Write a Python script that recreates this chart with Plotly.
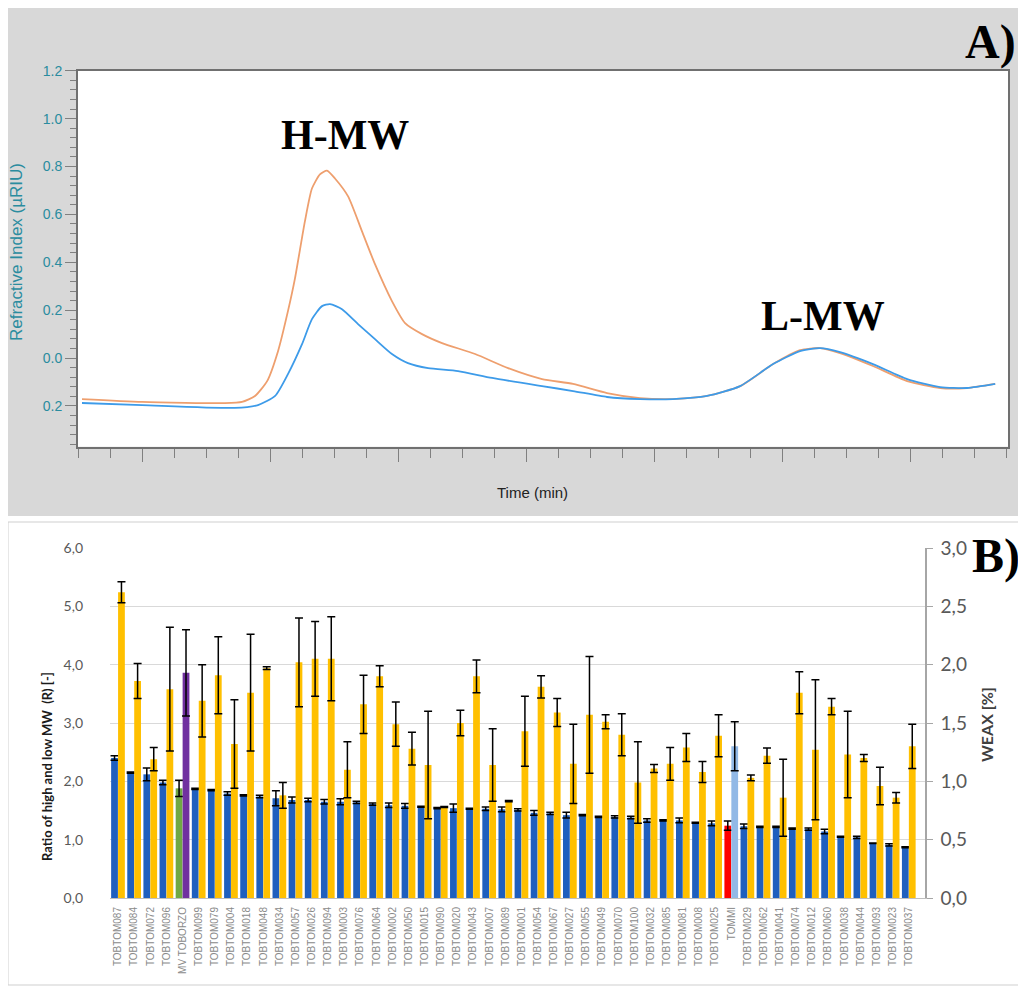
import plotly.graph_objects as go

FIG_W, FIG_H = 1026, 991
PAGE_OFFSET = 8  # the page body margin shifts the figure by this many pixels


def px(x):
    return (x - PAGE_OFFSET) / FIG_W


def py(y):
    return 1 - (y - PAGE_OFFSET) / FIG_H


# ---------------- Panel A: refractive index chromatograms ----------------
time_orange = [0.125, 2.0, 4.59, 5.125, 5.53, 5.91, 6.25, 6.56, 6.78, 7.09, 7.31, 7.56, 7.78,
               8.03, 8.44, 8.875, 9.28, 9.81, 10.22, 10.75, 11.375, 12.41, 13.44, 14.5, 15.47,
               16.53, 17.56, 18.59, 19.66, 20.69, 21.72, 22.56, 23.19, 23.81, 24.84, 25.91,
               26.94, 27.78, 28.66]
ri_orange = [-0.171, -0.183, -0.188, -0.183, -0.158, -0.096, 0.029, 0.196, 0.333, 0.571, 0.708,
             0.767, 0.783, 0.75, 0.675, 0.529, 0.392, 0.238, 0.146, 0.1, 0.0625, 0.017, -0.042,
             -0.0875, -0.108, -0.146, -0.167, -0.171, -0.158, -0.117, -0.025, 0.033, 0.042,
             0.021, -0.033, -0.096, -0.125, -0.125, -0.108]

time_blue = [0.125, 2.0, 4.9, 5.625, 6.16, 6.56, 7.0, 7.31, 7.625, 7.875, 8.25, 8.75, 9.28,
             9.81, 10.31, 10.94, 11.875, 12.94, 14.5, 15.47, 16.53, 17.56, 18.59, 19.66, 20.69,
             21.72, 22.56, 23.19, 23.81, 24.84, 25.91, 26.94, 27.78, 28.66]
ri_blue = [-0.1875, -0.196, -0.208, -0.196, -0.158, -0.067, 0.058, 0.1625, 0.217, 0.225, 0.204,
           0.142, 0.079, 0.017, -0.021, -0.042, -0.054, -0.083, -0.117, -0.1375, -0.1625,
           -0.171, -0.171, -0.158, -0.117, -0.025, 0.029, 0.042, 0.025, -0.025, -0.0875,
           -0.121, -0.125, -0.108]

ri_tickvals = [-0.2, 0.0, 0.2, 0.4, 0.6, 0.8, 1.0, 1.2]
ri_ticktext = ["0.2", "0.0", "0.2", "0.4", "0.6", "0.8", "1.0", "1.2"]

# ---------------- Panel B: ratio R and WEAX ----------------
categories = ["TOBTOM087", "TOBTOM084", "TOBTOM072", "TOBTOM096", "MV TOBORZO", "TOBTOM099",
              "TOBTOM079", "TOBTOM004", "TOBTOM018", "TOBTOM048", "TOBTOM034", "TOBTOM057",
              "TOBTOM026", "TOBTOM094", "TOBTOM003", "TOBTOM076", "TOBTOM064", "TOBTOM002",
              "TOBTOM050", "TOBTOM015", "TOBTOM090", "TOBTOM020", "TOBTOM043", "TOBTOM007",
              "TOBTOM089", "TOBTOM001", "TOBTOM054", "TOBTOM067", "TOBTOM027", "TOBTOM055",
              "TOBTOM049", "TOBTOM070", "TOBTOM100", "TOBTOM032", "TOBTOM085", "TOBTOM081",
              "TOBTOM008", "TOBTOM025", "TOMMI", "TOBTOM029", "TOBTOM062", "TOBTOM041",
              "TOBTOM074", "TOBTOM012", "TOBTOM060", "TOBTOM038", "TOBTOM044", "TOBTOM093",
              "TOBTOM023", "TOBTOM037"]

ratio_R = [2.40, 2.15, 2.12, 1.98, 1.88, 1.87, 1.85, 1.79, 1.76, 1.74, 1.71, 1.68, 1.68, 1.65,
           1.65, 1.64, 1.61, 1.59, 1.58, 1.565, 1.54, 1.54, 1.53, 1.53, 1.52, 1.51, 1.46, 1.45,
           1.42, 1.42, 1.39, 1.39, 1.38, 1.33, 1.33, 1.33, 1.29, 1.28, 1.24, 1.23, 1.22, 1.22,
           1.19, 1.18, 1.14, 1.05, 1.04, 0.94, 0.91, 0.87]
ratio_R_err = [0.04, 0.01, 0.11, 0.04, 0.14, 0.01, 0.01, 0.03, 0.01, 0.02, 0.13, 0.05, 0.03,
               0.04, 0.05, 0.02, 0.02, 0.04, 0.04, 0.01, 0.01, 0.07, 0.01, 0.03, 0.04, 0.02,
               0.04, 0.02, 0.05, 0.01, 0.01, 0.02, 0.02, 0.03, 0.01, 0.04, 0.01, 0.04, 0.08,
               0.04, 0.01, 0.01, 0.01, 0.02, 0.04, 0.01, 0.02, 0.005, 0.02, 0.01]

weax = [2.62, 1.86, 1.19, 1.79, 1.93, 1.69, 1.91, 1.32, 1.76, 1.97, 0.88, 2.02, 2.05, 2.05,
        1.10, 1.66, 1.90, 1.49, 1.28, 1.14, 0.78, 1.50, 1.90, 1.14, 0.83, 1.43, 1.81, 1.59,
        1.15, 1.57, 1.51, 1.40, 0.99, 1.11, 1.15, 1.29, 1.08, 1.39, 1.30, 1.03, 1.22, 0.86,
        1.76, 1.27, 1.64, 1.23, 1.20, 0.96, 0.86, 1.30]
weax_err = [0.09, 0.15, 0.10, 0.53, 0.37, 0.31, 0.33, 0.38, 0.50, 0.012, 0.11, 0.38, 0.32,
            0.36, 0.24, 0.25, 0.09, 0.19, 0.14, 0.46, 0.005, 0.11, 0.14, 0.31, 0.005, 0.30,
            0.095, 0.12, 0.34, 0.50, 0.06, 0.18, 0.35, 0.035, 0.14, 0.12, 0.09, 0.18, 0.21,
            0.025, 0.065, 0.33, 0.18, 0.60, 0.07, 0.37, 0.03, 0.16, 0.045, 0.19]

# colours
BLUE, GOLD = "#1f5fbe", "#ffc000"
R_highlight = {"MV TOBORZO": "#70a845", "TOMMI": "#ff0000"}
W_highlight = {"MV TOBORZO": "#7030a0", "TOMMI": "#92b9e6"}
R_colors = [R_highlight.get(c, BLUE) for c in categories]
W_colors = [W_highlight.get(c, GOLD) for c in categories]

fig = go.Figure()

fig.add_trace(go.Scatter(x=time_orange, y=ri_orange, mode="lines",
                         line=dict(color="#ee9f6e", width=1.8, shape="spline", smoothing=0.6),
                         xaxis="x", yaxis="y", hoverinfo="skip"))
fig.add_trace(go.Scatter(x=time_blue, y=ri_blue, mode="lines",
                         line=dict(color="#3d9be9", width=1.8, shape="spline", smoothing=0.6),
                         xaxis="x", yaxis="y", hoverinfo="skip"))

err_style = dict(type="data", color="black", thickness=1.5, width=4)
fig.add_trace(go.Bar(x=categories, y=ratio_R, marker=dict(color=R_colors, line=dict(width=0)),
                     width=0.42, offset=-0.43, xaxis="x2", yaxis="y2",
                     error_y=dict(array=ratio_R_err, **err_style)))
fig.add_trace(go.Bar(x=categories, y=weax, marker=dict(color=W_colors, line=dict(width=0)),
                     width=0.42, offset=0.0, xaxis="x2", yaxis="y3",
                     error_y=dict(array=weax_err, **err_style)))

TEAL = "#2a8c9f"
fig.update_layout(
    template="none",
    width=FIG_W, height=FIG_H, autosize=False,
    margin=dict(l=0, r=0, t=0, b=0, pad=0, autoexpand=False),
    paper_bgcolor="white", plot_bgcolor="rgba(0,0,0,0)",
    showlegend=False, separators=", ",
    barmode="overlay",
    xaxis=dict(domain=[px(78), px(1008)], anchor="y", range=[0, 29.06], automargin=False,
               showgrid=False, zeroline=False, showticklabels=False,
               showline=True, mirror=True, linecolor="#707070", linewidth=2,
               ticks="outside", tickmode="linear", tick0=2, dtick=4, ticklen=13, tickcolor="#808080",
               minor=dict(ticks="outside", dtick=1, tick0=0, ticklen=9, tickcolor="#808080")),
    yaxis=dict(domain=[py(446.7), py(70.7)], anchor="x", range=[-0.37, 1.2], automargin=False,
               showgrid=False, zeroline=False,
               showline=True, mirror=True, linecolor="#707070", linewidth=2,
               tickmode="array", tickvals=ri_tickvals, ticktext=ri_ticktext,
               ticks="outside", ticklen=11, tickcolor="#808080",
               tickfont=dict(family="Liberation Sans, Arial", size=14, color=TEAL),
               minor=dict(ticks="outside", dtick=0.04, tick0=0, ticklen=6, tickcolor="#808080")),
    xaxis2=dict(domain=[px(110), px(925)], anchor="y2", type="category", range=[-0.5, 50.0],
                automargin=False,
                showgrid=False, zeroline=False, showline=True, linecolor="#bfbfbf", linewidth=1,
                ticks="", tickangle=-90, ticklabelstandoff=4,
                tickfont=dict(family="Liberation Sans, Arial", size=10, color="#8a8a8a")),
    yaxis2=dict(domain=[py(898), py(548)], anchor="x2", range=[0, 6], dtick=1, tick0=0,
                automargin=False,
                tickformat=".1f", showgrid=True, gridcolor="#d9d9d9", gridwidth=1.2,
                zeroline=False, showline=False, ticks="", ticklabelstandoff=26,
                tickfont=dict(family="Lato, Open Sans", size=14, color="#595959")),
    yaxis3=dict(overlaying="y2", anchor="x2", side="right", range=[0, 3], dtick=0.5, tick0=0,
                automargin=False,
                tickformat=".1f", showgrid=False, zeroline=False,
                showline=True, linecolor="#a6a6a6", linewidth=1.5,
                ticks="outside", ticklen=6, tickcolor="#a6a6a6", ticklabelstandoff=4,
                tickfont=dict(family="Lato, Open Sans", size=19, color="#595959")),
    shapes=[
        dict(type="rect", xref="paper", yref="paper", x0=px(7), x1=px(1020), y0=py(516), y1=py(8),
             fillcolor="#d8d8d8", line=dict(width=0), layer="below"),
        dict(type="rect", xref="paper", yref="paper", x0=px(78), x1=px(1008), y0=py(446.7), y1=py(70.7),
             fillcolor="white", line=dict(width=0), layer="below"),
        dict(type="rect", xref="paper", yref="paper", x0=px(8), x1=px(1020), y0=py(985), y1=py(522),
             fillcolor="rgba(0,0,0,0)", line=dict(color="#cfcfcf", width=1), layer="below"),
    ],
    annotations=[
        dict(text="Refractive Index (µRIU)", xref="paper", yref="paper", x=px(16), y=py(252),
             textangle=-90, showarrow=False, xanchor="center", yanchor="middle",
             font=dict(family="Liberation Sans, Arial", size=17, color=TEAL)),
        dict(text="Time (min)", xref="paper", yref="paper", x=px(532), y=py(492),
             showarrow=False, xanchor="center", yanchor="middle",
             font=dict(family="Liberation Sans, Arial", size=15, color="#222222")),
        dict(text="<b>H-MW</b>", xref="paper", yref="paper", x=px(345), y=py(135),
             showarrow=False, xanchor="center", yanchor="middle",
             font=dict(family="Liberation Serif, Times New Roman", size=42, color="black")),
        dict(text="<b>L-MW</b>", xref="paper", yref="paper", x=px(823), y=py(316),
             showarrow=False, xanchor="center", yanchor="middle",
             font=dict(family="Liberation Serif, Times New Roman", size=42, color="black")),
        dict(text="<b>A)</b>", xref="paper", yref="paper", x=px(1018), y=py(42),
             showarrow=False, xanchor="right", yanchor="middle",
             font=dict(family="Liberation Serif, Times New Roman", size=48, color="black")),
        dict(text="<b>B)</b>", xref="paper", yref="paper", x=px(970), y=py(556),
             showarrow=False, xanchor="left", yanchor="middle",
             font=dict(family="Liberation Serif, Times New Roman", size=48, color="black")),
        dict(text="<b>Ratio of high and low MW  (R) [-]</b>", xref="paper", yref="paper",
             x=px(47), y=py(767), textangle=-90, showarrow=False, xanchor="center", yanchor="middle",
             font=dict(family="Lato, Open Sans", size=13, color="#1a1a1a")),
        dict(text="<b>WEAX [%]</b>", xref="paper", yref="paper", x=px(986), y=py(725),
             textangle=-90, showarrow=False, xanchor="center", yanchor="middle",
             font=dict(family="Lato, Open Sans", size=16, color="#404040")),
    ],
)

fig.write_html("out.html")
